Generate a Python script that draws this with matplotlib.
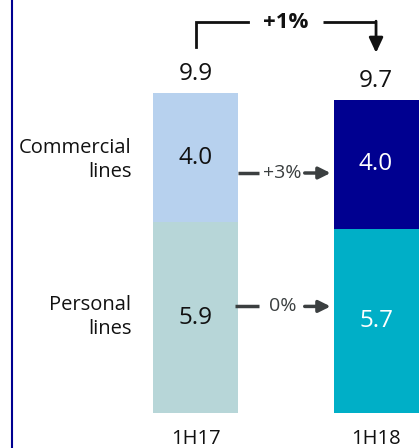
import matplotlib
matplotlib.use("Agg")
import matplotlib.pyplot as plt
import numpy as np

plt.rcParams["font.family"] = ["Open Sans", "DejaVu Sans"]

periods = ["1H17", "1H18"]
personal = [5.9, 5.7]
commercial = [4.0, 4.0]
totals = [9.9, 9.7]
segment_names = ["Personal\nlines", "Commercial\nlines"]
segment_growth = ["0%", "+3%"]
total_growth = "+1%"

personal_colors = ["#b7d6d8", "#00afc7"]
commercial_colors = ["#b7d1ee", "#000090"]
value_colors = ["#111111", "#ffffff"]
arrow_color = "#3b3f40"

fig = plt.figure(figsize=(4.19, 4.48), dpi=100)
ax = fig.add_axes([0, 0, 1, 1])
ax.set_xlim(-1.083, 1.238)
ax.set_ylim(-1.083, 12.786)
ax.axis("off")

x = np.arange(len(periods))
width = 0.471
ax.bar(x, personal, width, color=personal_colors)
ax.bar(x, commercial, width, bottom=personal, color=commercial_colors)

# values inside segments and totals above
for i in range(len(periods)):
    ax.text(x[i], personal[i] / 2, f"{personal[i]:.1f}", ha="center", va="center",
            fontsize=17.5, color=value_colors[i])
    ax.text(x[i], personal[i] + commercial[i] / 2, f"{commercial[i]:.1f}", ha="center",
            va="center", fontsize=17.5, color=value_colors[i])
    ax.text(x[i], totals[i] + 0.58, f"{totals[i]:.1f}", ha="center", va="center",
            fontsize=17.5, color="#111111")
    ax.text(x[i], -0.8, periods[i], ha="center", va="center", fontsize=14.5,
            color="#111111")

# row labels on the left
ax.text(-0.355, personal[0] / 2 + 0.02, segment_names[0], ha="right", va="center",
        fontsize=14.5, color="#111111", linespacing=1.3)
ax.text(-0.355, personal[0] + commercial[0] / 2 - 0.07, segment_names[1], ha="right",
        va="center", fontsize=14.5, color="#111111", linespacing=1.3)

# growth arrows between the bars
row_y = [3.3, 7.43]
line_start = [0.22, 0.235]
for yy, label, x0 in zip(row_y, segment_growth, line_start):
    ax.plot([x0, 0.35], [yy, yy], color=arrow_color, lw=2.5, solid_capstyle="butt")
    ax.text(0.483, yy, label, ha="center", va="center", fontsize=14, color=arrow_color)
    ax.annotate("", xy=(0.748, yy), xytext=(0.605, yy),
                arrowprops=dict(arrowstyle="-|>,head_length=0.7,head_width=0.35",
                                color=arrow_color, lw=2.5, shrinkA=0, shrinkB=0))

# total change bracket
top = 12.1
ax.plot([x[0], x[0], 0.291], [11.33, top, top], color="#111111", lw=2,
        solid_joinstyle="miter")
ax.plot([0.706, x[1]], [top, top], color="#111111", lw=2, solid_capstyle="butt")
ax.annotate("", xy=(x[1], 11.15), xytext=(x[1], top + 0.03),
            arrowprops=dict(arrowstyle="-|>,head_length=0.9,head_width=0.42",
                            color="#111111", lw=2, shrinkA=0, shrinkB=0))
ax.text(0.498, top, total_growth, ha="center", va="center", fontsize=16,
        fontweight="bold", color="#111111")

ax.axvline(-1.019, color="#000090", lw=1.5)

fig.savefig("out.png", dpi=100)
